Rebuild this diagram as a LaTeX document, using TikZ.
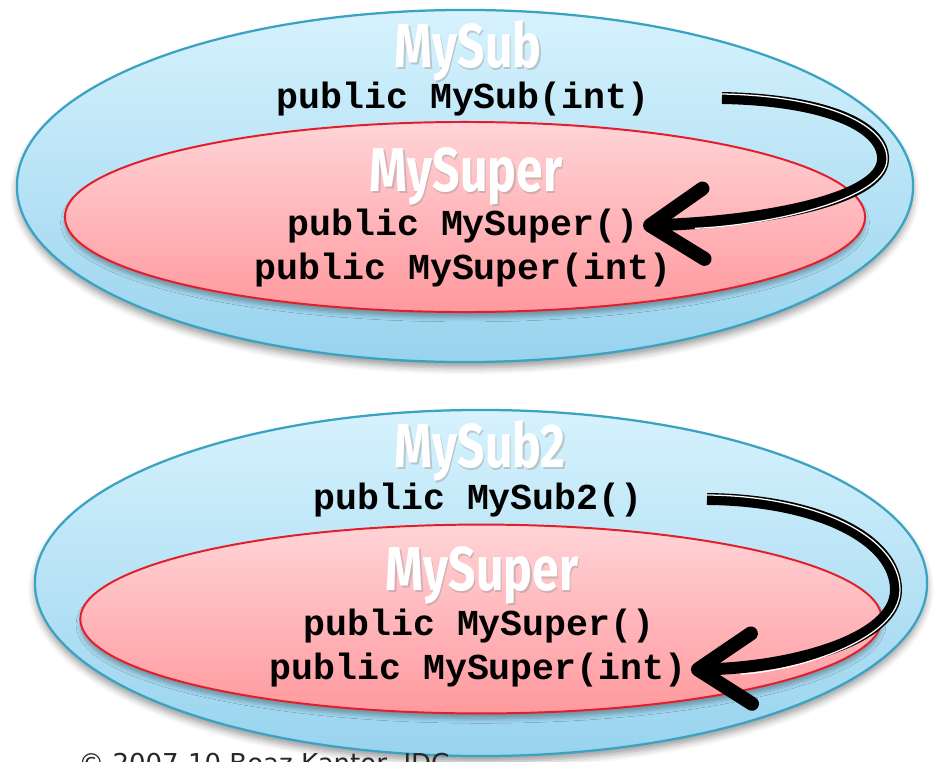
\documentclass[tikz,border=0pt]{standalone}
\usepackage{fontspec}
\usepackage{graphicx}
\setmainfont{Liberation Serif}
\newfontfamily\codefont{Liberation Mono}
\newfontfamily\titlefont{Fira Sans}
\newfontfamily\notefont{DejaVu Sans}
\usetikzlibrary{shapes.geometric, arrows.meta, shadows.blur}

\definecolor{bluetop}{HTML}{D6F2FD}
\definecolor{bluebot}{HTML}{98D3EE}
\definecolor{blueline}{HTML}{3BA3C2}
\definecolor{pinktop}{HTML}{FFD4D7}
\definecolor{pinkbot}{HTML}{FF999E}
\definecolor{redline}{HTML}{E31E2B}

\begin{document}
\begin{tikzpicture}[x=0.025cm, y=-0.025cm,
  outerell/.style={ellipse, inner sep=0pt, outer sep=0pt, draw=blueline,
    line width=1.6pt, top color=bluetop, bottom color=bluebot,
    blur shadow={shadow xshift=0pt, shadow yshift=-4pt, shadow blur radius=5pt}},
  innerell/.style={ellipse, inner sep=0pt, outer sep=0pt, draw=redline,
    line width=1.4pt, top color=pinktop, bottom color=pinkbot,
    blur shadow={shadow xshift=0pt, shadow yshift=-4pt, shadow blur radius=3pt,
      shadow opacity=30}},
  title/.style={font=\titlefont\bfseries\fontsize{44}{44}\selectfont,
    text=white, inner sep=0pt, anchor=base},
  titleshade/.style={title, text=black!40, opacity=0.45},
  code/.style={font=\codefont\bfseries\fontsize{26}{26}\selectfont,
    inner sep=3pt, anchor=base},
  callarrow/.style={black, line width=8.5pt,
    -{Straight Barb[length=38pt, width=50pt, line width=10pt, round]}},
  stripe/.style={white, line width=0.9pt, shorten >=34pt},
]
\useasboundingbox (0,0) rectangle (934,762);
\clip (0,0) rectangle (934,762);

% ---- MySub calling MySuper() implicitly ----
\node[outerell, minimum width=22.4cm, minimum height=8.8cm] (sub) at (465,186) {};
\node[innerell, minimum width=20cm, minimum height=4.75cm] (sup) at (465,217) {};

\node[titleshade] (subtitleshade) at (469.5,70) {\scalebox{0.78}[1]{MySub}};
\node[title] (subtitle) at (468,68) {\scalebox{0.78}[1]{MySub}};
\node[titleshade] (suptitleshade) at (467.5,193) {\scalebox{0.78}[1]{MySuper}};
\node[title] (suptitle) at (466,191) {\scalebox{0.78}[1]{MySuper}};

\node[code] (subctor) at (463,108) {public MySub(int)};
\node[code] (supctor) at (463,235) {public MySuper()};
\node[code] (supctorint) at (463,279) {public MySuper(int)};

\coordinate (a1s) at (722,98);
\coordinate (a1r) at (883,160);
\draw[callarrow] (a1s) .. controls (830,100) and (885,128) .. (a1r)
  .. controls (881,200) and (760,222) .. (supctor.east);
\draw[stripe] (722,94) .. controls (830.5,96) and (888.5,126.5) .. (887,160)
  .. controls (885,201.5) and (760.5,226) .. (647,230);

% ---- MySub2 calling MySuper(int) explicitly ----
\node[outerell, minimum width=22.3cm, minimum height=8.65cm] (subb) at (481,583) {};
\node[innerell, minimum width=20.03cm, minimum height=4.72cm] (supb) at (481,619) {};

\node[titleshade] (subbtitleshade) at (481.5,469) {\scalebox{0.78}[1]{MySub2}};
\node[title] (subbtitle) at (480,467) {\scalebox{0.78}[1]{MySub2}};
\node[titleshade] (supbtitleshade) at (483.5,592) {\scalebox{0.78}[1]{MySuper}};
\node[title] (supbtitle) at (482,590) {\scalebox{0.78}[1]{MySuper}};

\node[code] (subbctor) at (478,509) {public MySub2()};
\node[code] (supbctor) at (479,635) {public MySuper()};
\node[code] (supbctorint) at (478,679) {public MySuper(int)};

\coordinate (a2s) at (707,499);
\coordinate (a2r) at (896,590);
\draw[callarrow] (a2s) .. controls (820,500) and (896,540) .. (a2r)
  .. controls (896,640) and (790,668) .. (supbctorint.east);
\draw[stripe] (707,495) .. controls (820.5,496) and (900,538.5) .. (900,590)
  .. controls (900,641.5) and (790.5,672) .. (693,676);

\node[font=\notefont\fontsize{18.5}{18.5}\selectfont, anchor=base west,
  inner sep=0pt, text=black!85] (credit) at (78,772) {© 2007-10 Boaz Kantor, IDC};
\end{tikzpicture}
\end{document}
